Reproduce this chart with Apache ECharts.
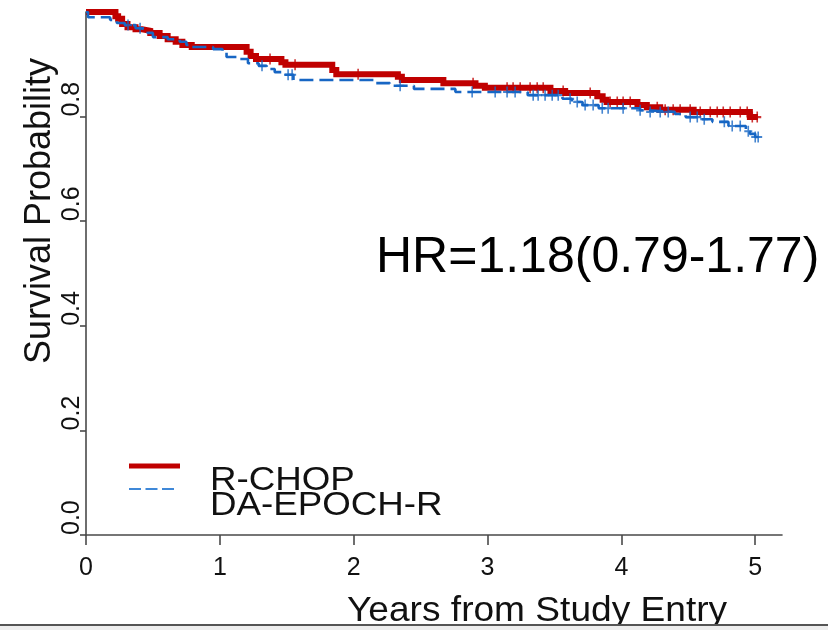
<!DOCTYPE html>
<html>
<head>
<meta charset="utf-8">
<script src="https://cdn.jsdelivr.net/npm/echarts@6/dist/echarts.min.js"></script>
<style>
  html, body { margin: 0; padding: 0; background: #ffffff; }
  #chart { width: 828px; height: 630px; }
</style>
</head>
<body>
<div id="chart"></div>
<script>
// Kaplan-Meier survival by treatment arm (years from study entry)
const xTicks = [0, 1, 2, 3, 4, 5];
const yTicks = [0, 0.2, 0.4, 0.6, 0.8];

// R-CHOP: event times and survival after each step
const rchopTimes = [0, 0.22, 0.24, 0.27, 0.31, 0.37, 0.42, 0.48, 0.55, 0.61, 0.67, 0.72, 0.79,
  1.20, 1.23, 1.27, 1.46, 1.49, 1.84, 1.87, 2.33, 2.36, 2.67, 2.91, 2.98, 3.47, 3.58, 3.82,
  3.86, 3.89, 4.12, 4.19, 4.29, 4.54, 4.96, 5.02];
const rchopSurv = [1, 0.992, 0.987, 0.977, 0.971, 0.967, 0.964, 0.960, 0.954, 0.948, 0.943, 0.937, 0.933,
  0.924, 0.916, 0.910, 0.904, 0.899, 0.889, 0.881, 0.876, 0.870, 0.864, 0.859, 0.855, 0.849, 0.845, 0.839,
  0.832, 0.828, 0.822, 0.818, 0.813, 0.809, 0.799, 0.799];
// R-CHOP censoring times
const rchopCensor = [1.375, 1.562, 2.033, 2.892, 3.146, 3.191, 3.244, 3.318, 3.371, 3.416, 3.565, 3.767,
  3.916, 3.969, 4.013, 4.066, 4.268, 4.327, 4.387, 4.439, 4.514, 4.589, 4.664, 4.716, 4.761, 4.813,
  4.888, 4.940, 4.978, 5.015];

// DA-EPOCH-R: event times and survival after each step
const epochTimes = [0, 0.015, 0.18, 0.23, 0.29, 0.37, 0.41, 0.46, 0.50, 0.61, 0.70, 0.75, 0.78, 0.95,
  1.02, 1.05, 1.15, 1.21, 1.29, 1.35, 1.41, 1.48, 1.55, 2.16, 2.27, 2.45, 2.76, 3.30, 3.56, 3.63,
  3.71, 3.83, 4.14, 4.20, 4.40, 4.48, 4.60, 4.68, 4.80, 4.93, 4.96, 5.00, 5.02];
const epochSurv = [1, 0.990, 0.985, 0.979, 0.975, 0.969, 0.966, 0.960, 0.952, 0.948, 0.943, 0.937, 0.933, 0.929,
  0.922, 0.914, 0.910, 0.902, 0.897, 0.891, 0.885, 0.880, 0.870, 0.864, 0.859, 0.853, 0.847, 0.841, 0.834, 0.828,
  0.822, 0.816, 0.812, 0.809, 0.805, 0.799, 0.795, 0.790, 0.782, 0.772, 0.767, 0.761, 0.761];
// DA-EPOCH-R censoring times
const epochCensor = [0.314, 0.404, 1.315, 1.510, 1.540, 2.347, 2.885, 3.057, 3.146, 3.206, 3.341, 3.378,
  3.430, 3.483, 3.528, 3.617, 3.670, 3.729, 3.789, 3.857, 3.901, 4.013, 4.140, 4.215, 4.290, 4.350,
  4.514, 4.567, 4.619, 4.769, 4.828, 4.888, 4.948, 5.000, 5.022];

const hrText = 'HR=1.18(0.79-1.77)';
const armNames = ['R-CHOP', 'DA-EPOCH-R'];

const FONT = '"Liberation Sans", Arial, Helvetica, sans-serif';
const RED = '#c00000';
const BLUE = '#1766c4';
const AXIS = '#4a4a4a';

// survival value of the step function at time t
function survivalAt(times, surv, t) {
  let s = surv[0];
  for (let i = 0; i < times.length; i++) {
    if (times[i] <= t) s = surv[i]; else break;
  }
  return s;
}
const curve = (times, surv) => times.map((t, i) => [t, surv[i]]);
const censorMarks = (cens, times, surv) => cens.map(t => [t, survivalAt(times, surv, t)]);

const PLUS = 'path://M4,0 h2 v10 h-2 z M0,4 h10 v2 h-10 z';

const chart = echarts.init(document.getElementById('chart'), null, { renderer: 'canvas' });
chart.setOption({
  animation: false,
  backgroundColor: '#ffffff',
  grid: { left: 86, right: 46, top: 12, bottom: 95 },
  xAxis: {
    type: 'value', min: 0, max: 5.2,
    axisLine: { show: true, lineStyle: { color: AXIS, width: 1.6 } },
    axisTick: { show: true, length: 10, customValues: xTicks, lineStyle: { color: AXIS, width: 1.6 } },
    axisLabel: { customValues: xTicks, fontSize: 25, margin: 21, color: '#111', fontFamily: FONT },
    splitLine: { show: false }
  },
  yAxis: {
    type: 'value', min: 0, max: 1,
    axisLine: { show: true, lineStyle: { color: AXIS, width: 1.6 } },
    axisTick: { show: true, length: 6, customValues: yTicks, lineStyle: { color: AXIS, width: 1.6 } },
    axisLabel: {
      customValues: yTicks, rotate: 90, align: 'left', fontSize: 25, margin: 1,
      color: '#111', fontFamily: FONT, formatter: v => v.toFixed(1)
    },
    splitLine: { show: false }
  },
  series: [
    {
      name: armNames[0], type: 'line', step: 'end', symbol: 'none', z: 2,
      data: curve(rchopTimes, rchopSurv),
      lineStyle: { color: RED, width: 6, join: 'miter' }
    },
    {
      name: armNames[0] + ' censored', type: 'scatter', z: 3,
      symbol: PLUS, symbolSize: [8, 11],
      itemStyle: { color: RED },
      data: censorMarks(rchopCensor, rchopTimes, rchopSurv)
    },
    {
      name: armNames[1], type: 'line', step: 'end', symbol: 'none', z: 4,
      data: curve(epochTimes, epochSurv),
      lineStyle: { color: BLUE, width: 2.6, type: [14, 6] }
    },
    {
      name: armNames[1] + ' censored', type: 'scatter', z: 5,
      symbol: PLUS, symbolSize: [8, 11],
      itemStyle: { color: BLUE },
      data: censorMarks(epochCensor, epochTimes, epochSurv)
    }
  ],
  graphic: [
    {
      type: 'text', x: 40, y: 211, rotation: Math.PI / 2,
      style: { text: 'Survival Probability', fontFamily: FONT, fontSize: 36, fill: '#111',
               align: 'center', verticalAlign: 'middle' }
    },
    {
      type: 'text', x: 347, y: 611, scaleX: 1.06,
      style: { text: 'Years from Study Entry', fontFamily: FONT, fontSize: 35, fill: '#111',
               align: 'left', verticalAlign: 'middle' }
    },
    {
      type: 'text', x: 376, y: 258,
      style: { text: hrText, fontFamily: FONT, fontSize: 50, fill: '#000',
               align: 'left', verticalAlign: 'middle' }
    },
    {
      type: 'line', shape: { x1: 129, y1: 466, x2: 180, y2: 466 },
      style: { stroke: RED, lineWidth: 5 }
    },
    {
      type: 'line', shape: { x1: 129, y1: 489, x2: 177, y2: 489 },
      style: { stroke: '#3f88d8', lineWidth: 2, lineDash: [12, 4.5] }
    },
    {
      type: 'text', x: 210, y: 481, scaleX: 1.08,
      style: { text: armNames[0], fontFamily: FONT, fontSize: 34, fill: '#111',
               align: 'left', verticalAlign: 'middle' }
    },
    {
      type: 'text', x: 210, y: 506, scaleX: 1.08,
      style: { text: armNames[1], fontFamily: FONT, fontSize: 34, fill: '#111',
               align: 'left', verticalAlign: 'middle' }
    },
    { type: 'rect', shape: { x: 0, y: 624, width: 828, height: 2 }, style: { fill: '#555555' } },
    { type: 'rect', shape: { x: 0, y: 626, width: 828, height: 4 }, style: { fill: '#eeeeee' } }
  ]
});
</script>
</body>
</html>
